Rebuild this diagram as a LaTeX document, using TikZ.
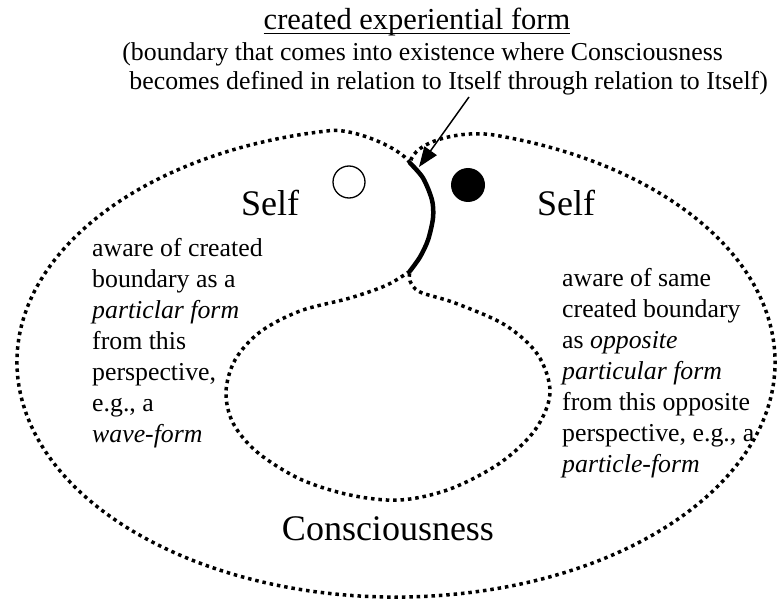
\documentclass[tikz,border=0pt]{standalone}
\usepackage{fontspec}
\setmainfont{Liberation Serif}
\usetikzlibrary{arrows.meta, positioning}

\begin{document}
\begin{tikzpicture}[
    x=1pt, y=-1pt,
    dotline/.style={line width=3.5pt, dash pattern=on 3.5pt off 3.9pt},
    wall/.style={line width=4.5pt, line cap=round},
    remark/.style={font=\fontsize{25.8}{29}\selectfont, inner sep=0pt},
    block/.style={font=\fontsize{25.8}{31}\selectfont, align=left, inner sep=0pt},
    big/.style={font=\fontsize{36}{40}\selectfont, inner sep=0pt},
    >={Triangle[length=20pt, width=15pt]}
  ]
  \useasboundingbox (0,0) rectangle (777,607);

  %% --- caption ---
  \node[font=\fontsize{30.5}{34}\selectfont, inner sep=0pt, anchor=base] (title) at (417,30)
    {created experiential form};
  \draw[line width=1.3pt] ([yshift=-3.5pt]title.base west) -- ([yshift=-3.5pt]title.base east);
  \node[remark, anchor=base east] (gloss1) at (723,61)
    {(boundary that comes into existence where Consciousness};
  \node[remark, anchor=base east] (gloss2) at (768,90)
    {becomes defined in relation to Itself through relation to Itself)};

  %% --- cusps of the two regions ---
  \coordinate (upper cusp) at (410,163);
  \coordinate (lower cusp) at (410,271);

  %% --- outer region ---
  \draw[dotline] (upper cusp) .. controls (400,147) and (352,128) .. (330.2,130.6)
    arc[x radius=379, y radius=235, start angle=-100, end angle=-435]
    .. controls (464,130) and (414,140) .. (upper cusp);

  %% --- inner region ---
  \draw[dotline] plot[smooth, tension=0.55] coordinates {(lower cusp) (387,285) (350,298)
    (300,311) (260,332) (235,360) (226,392) (233,423) (257,452) (300,479) (350,495)
    (400,500) (450,489) (500,463) (535,430) (550,393) (538,355) (505,325) (455,303)
    (420,292) (410,281) (lower cusp)};

  %% --- created boundary ---
  \draw[wall] plot[smooth] coordinates {(upper cusp) (423,178) (432,200) (433,218)
    (428,240) (420,257) (lower cusp)};

  %% --- pointer ---
  \coordinate (pointer) at (469,97);
  \coordinate (tip) at (419,167);
  \draw[->, line width=1.5pt] (pointer) -- (tip);

  %% --- the two selves ---
  \node[big, anchor=base west] (self1) at (241,215) {Self};
  \node[big, anchor=base west] (self2) at (537,215) {Self};
  \node[circle, draw, line width=1.3pt, minimum size=32pt, inner sep=0pt] (hollow) at (349,182) {};
  \node[circle, fill, minimum size=34pt, inner sep=0pt] (solid) at (468,185) {};

  \node[block, anchor=north west] (left text) at (92,238.5)
    {aware of created\\boundary as a\\\textit{particlar form}\\from this\\perspective,\\e.g., a\\\textit{wave-form}};
  \node[block, anchor=north west] (right text) at (562,268.5)
    {aware of same\\created boundary\\as \textit{opposite}\\\textit{particular form}\\from this opposite\\perspective, e.g., a\\\textit{particle-form}};

  %% --- the whole ---
  \node[big, anchor=base] (whole) at (388,540) {Consciousness};
\end{tikzpicture}
\end{document}
